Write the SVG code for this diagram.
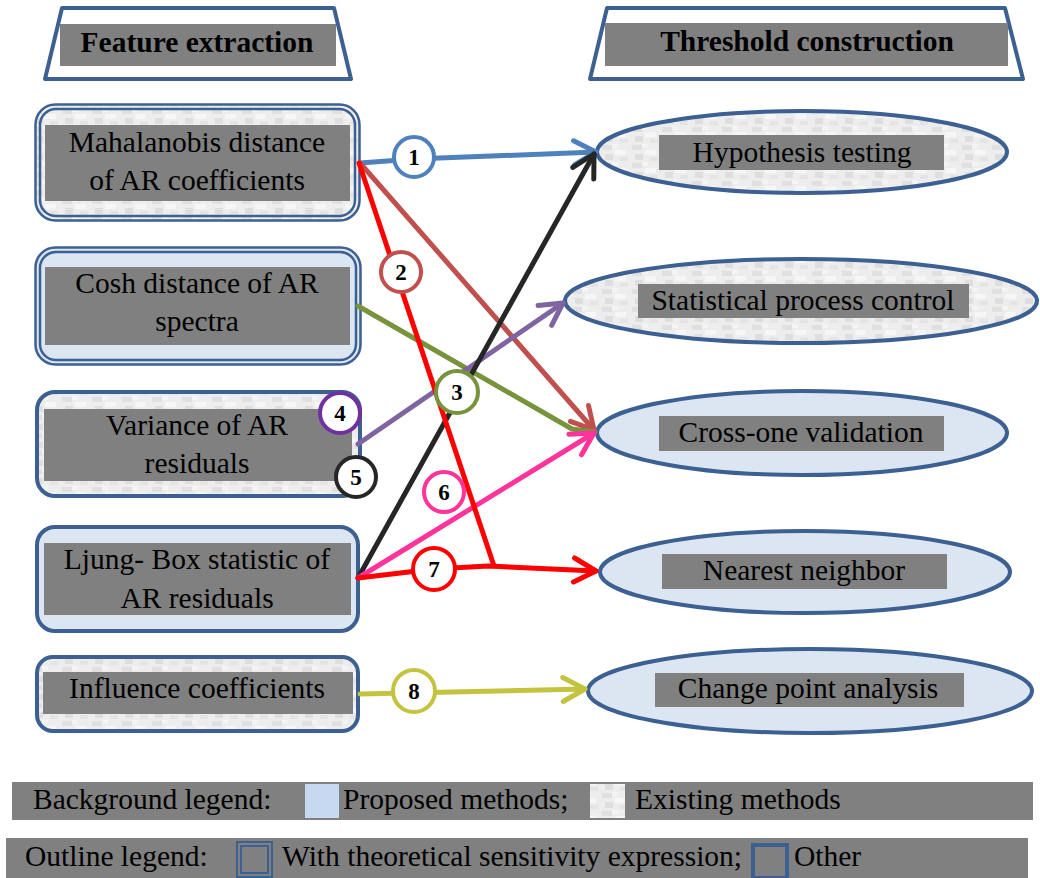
<svg xmlns="http://www.w3.org/2000/svg" width="1040" height="878" viewBox="0 0 1040 878">
<style>
.t{font-family:"Liberation Serif","Times New Roman",serif;font-size:29.5px;fill:#000;text-anchor:middle}
.tb{font-weight:bold}
.lg{font-family:"Liberation Serif","Times New Roman",serif;font-size:29.5px;fill:#000}
.num{font-family:"Liberation Serif","Times New Roman",serif;font-size:23px;font-weight:bold;fill:#000;text-anchor:middle}
.lab{fill:#808080}
.ol{stroke:#3b6091;fill:none}
.c{fill:none;stroke-width:5;stroke-linecap:round;stroke-linejoin:round}
.circ{fill:#fff;stroke-width:4}
</style>
<defs>
<pattern id="tex" width="30" height="18" patternUnits="userSpaceOnUse">
<rect width="30" height="18" fill="#ededed"/>
<rect x="2" y="1" width="10" height="5" fill="#e0e0e0"/>
<rect x="15" y="6" width="11" height="5" fill="#f6f6f6"/>
<rect x="5" y="10" width="8" height="6" fill="#dedede"/>
<rect x="20" y="13" width="8" height="4" fill="#e4e4e4"/>
<rect x="12" y="0" width="6" height="4" fill="#f4f4f4"/>
</pattern>
<marker id="aBlue" viewBox="0 0 28 30" refX="25" refY="15" markerWidth="28" markerHeight="30" markerUnits="userSpaceOnUse" orient="auto"><path d="M3,3 L25,15 L3,27" fill="none" stroke="#4f81bd" stroke-width="5" stroke-linecap="round" stroke-linejoin="round"/></marker>
<marker id="aRed" viewBox="0 0 28 30" refX="25" refY="15" markerWidth="28" markerHeight="30" markerUnits="userSpaceOnUse" orient="auto"><path d="M3,3 L25,15 L3,27" fill="none" stroke="#ff0000" stroke-width="5" stroke-linecap="round" stroke-linejoin="round"/></marker>
<marker id="aBrown" viewBox="0 0 28 30" refX="25" refY="15" markerWidth="28" markerHeight="30" markerUnits="userSpaceOnUse" orient="auto"><path d="M3,3 L25,15 L3,27" fill="none" stroke="#c0504d" stroke-width="5" stroke-linecap="round" stroke-linejoin="round"/></marker>
<marker id="aPurple" viewBox="0 0 28 30" refX="25" refY="15" markerWidth="28" markerHeight="30" markerUnits="userSpaceOnUse" orient="auto"><path d="M3,3 L25,15 L3,27" fill="none" stroke="#8064a2" stroke-width="5" stroke-linecap="round" stroke-linejoin="round"/></marker>
<marker id="aBlack" viewBox="0 0 28 30" refX="25" refY="15" markerWidth="28" markerHeight="30" markerUnits="userSpaceOnUse" orient="auto"><path d="M3,3 L25,15 L3,27" fill="none" stroke="#262626" stroke-width="5" stroke-linecap="round" stroke-linejoin="round"/></marker>
<marker id="aPink" viewBox="0 0 28 30" refX="25" refY="15" markerWidth="28" markerHeight="30" markerUnits="userSpaceOnUse" orient="auto"><path d="M3,3 L25,15 L3,27" fill="none" stroke="#ff3399" stroke-width="5" stroke-linecap="round" stroke-linejoin="round"/></marker>
<marker id="aYel" viewBox="0 0 28 30" refX="25" refY="15" markerWidth="28" markerHeight="30" markerUnits="userSpaceOnUse" orient="auto"><path d="M3,3 L25,15 L3,27" fill="none" stroke="#c3c340" stroke-width="5" stroke-linecap="round" stroke-linejoin="round"/></marker>
</defs>
<rect width="1040" height="878" fill="#fff"/>

<g id="hdr-feature">
<polygon points="62,8 334,8 351,79 45,79" fill="#fff" stroke="#3b6091" stroke-width="4" stroke-linejoin="round"/>
<rect class="lab" x="60" y="24" width="276" height="42"/>
<text class="t tb" x="197" y="52">Feature extraction</text>
</g>
<g id="hdr-threshold">
<polygon points="607,8 1005,8 1023,79 590,79" fill="#fff" stroke="#3b6091" stroke-width="4" stroke-linejoin="round"/>
<rect class="lab" x="605" y="23" width="403" height="43"/>
<text class="t tb" x="807" y="51">Threshold construction</text>
</g>

<g id="n-mahalanobis">
<rect x="35.5" y="104.5" width="324" height="116" rx="20" fill="url(#tex)" stroke="#3b6091" stroke-width="2.5"/>
<rect x="40" y="109" width="315" height="107" rx="16" class="ol" stroke-width="2.5"/>
<rect class="lab" x="45" y="125" width="305" height="76"/>
<text class="t" x="197" y="152">Mahalanobis distance</text>
<text class="t" x="197" y="190">of AR coefficients</text>
</g>
<g id="n-cosh">
<rect x="35.5" y="247.5" width="325" height="117" rx="20" fill="#dce6f2" stroke="#3b6091" stroke-width="2.5"/>
<rect x="40" y="252" width="316" height="108" rx="16" class="ol" stroke-width="2.5"/>
<rect class="lab" x="45" y="267" width="305" height="78"/>
<text class="t" x="197" y="293">Cosh distance of AR</text>
<text class="t" x="197" y="331">spectra</text>
</g>
<g id="n-variance">
<rect x="37" y="392" width="323" height="104" rx="18" fill="url(#tex)" stroke="#3b6091" stroke-width="4"/>
<rect class="lab" x="44" y="409" width="308" height="72"/>
<text class="t" x="197" y="435">Variance of AR</text>
<text class="t" x="197" y="473">residuals</text>
</g>
<g id="n-ljung">
<rect x="37" y="527" width="321" height="104" rx="18" fill="#dce6f2" stroke="#3b6091" stroke-width="4"/>
<rect class="lab" x="44" y="543" width="307" height="72"/>
<text class="t" x="197" y="569">Ljung- Box statistic of</text>
<text class="t" x="197" y="608">AR residuals</text>
</g>
<g id="n-influence">
<rect x="37" y="657" width="321" height="74" rx="16" fill="url(#tex)" stroke="#3b6091" stroke-width="4"/>
<rect class="lab" x="43" y="672" width="310" height="42"/>
<text class="t" x="197" y="698">Influence coefficients</text>
</g>

<g id="n-hypothesis">
<ellipse cx="802" cy="152" rx="205" ry="41" fill="url(#tex)" stroke="#3b6091" stroke-width="4"/>
<rect class="lab" x="659" y="135" width="285" height="35"/>
<text class="t" x="802" y="162">Hypothesis testing</text>
</g>
<g id="n-spc">
<ellipse cx="801" cy="301" rx="236" ry="42" fill="url(#tex)" stroke="#3b6091" stroke-width="4"/>
<rect class="lab" x="638" y="284" width="331" height="34"/>
<text class="t" x="803" y="310">Statistical process control</text>
</g>
<g id="n-crossone">
<ellipse cx="802" cy="433" rx="205" ry="42" fill="#dce6f2" stroke="#3b6091" stroke-width="4"/>
<rect class="lab" x="659" y="416" width="285" height="35"/>
<text class="t" x="801" y="442">Cross-one validation</text>
</g>
<g id="n-nearest">
<ellipse cx="805" cy="572" rx="205" ry="41" fill="#dce6f2" stroke="#3b6091" stroke-width="4"/>
<rect class="lab" x="662" y="554" width="285" height="35"/>
<text class="t" x="804" y="580">Nearest neighbor</text>
</g>
<g id="n-changepoint">
<ellipse cx="810" cy="691" rx="222" ry="42" fill="#dce6f2" stroke="#3b6091" stroke-width="4"/>
<rect class="lab" x="655" y="673" width="309" height="34"/>
<text class="t" x="808" y="698">Change point analysis</text>
</g>

<g id="connectors">
<polyline class="c" stroke="#4f81bd" points="360,163 414,159 596,152" marker-end="url(#aBlue)"/>
<line class="c" stroke="#c0504d" x1="360" y1="163" x2="594" y2="430" marker-end="url(#aBrown)"/>
<polyline class="c" stroke="#77933c" points="358,306 572,429 595,432"/>
<line class="c" stroke="#8064a2" x1="358" y1="444" x2="563" y2="303" marker-end="url(#aPurple)"/>
<line class="c" stroke="#262626" x1="358" y1="578" x2="594" y2="154" marker-end="url(#aBlack)"/>
<line class="c" stroke="#ff3399" x1="358" y1="578" x2="594" y2="433" marker-end="url(#aPink)"/>
<polyline class="c" stroke="#ff0000" points="359,163 494,566"/>
<polyline class="c" stroke="#ff0000" points="358,578 434,569 488,566 596,571" marker-end="url(#aRed)"/>
<line class="c" stroke="#c3c340" x1="360" y1="694" x2="585" y2="689" marker-end="url(#aYel)"/>
<circle class="circ" cx="414" cy="157" r="20" stroke="#4f81bd"/>
<text class="num" x="414" y="165">1</text>
<circle class="circ" cx="401" cy="272" r="20" stroke="#c0504d"/>
<text class="num" x="401" y="280">2</text>
<circle class="circ" cx="457" cy="392" r="21" stroke="#77933c"/>
<text class="num" x="457" y="400">3</text>
<circle class="circ" cx="340" cy="413" r="20" stroke="#7030a0"/>
<text class="num" x="340" y="421">4</text>
<circle class="circ" cx="356" cy="477" r="20" stroke="#262626"/>
<text class="num" x="356" y="485">5</text>
<circle class="circ" cx="444" cy="492" r="20" stroke="#ff3399"/>
<text class="num" x="444" y="500">6</text>
<circle class="circ" cx="434" cy="569" r="21" stroke="#ff0000"/>
<text class="num" x="434" y="577">7</text>
<circle class="circ" cx="414" cy="691" r="21" stroke="#c3c340"/>
<text class="num" x="414" y="699">8</text>
</g>

<g id="legend-background">
<rect class="lab" x="12" y="782" width="1021" height="38"/>
<text class="lg" x="33" y="809">Background legend:</text>
<rect x="305" y="784" width="34" height="34" fill="#c6d9f1"/>
<text class="lg" x="343" y="809">Proposed methods;</text>
<rect x="590" y="784" width="35" height="34" fill="url(#tex)"/>
<text class="lg" x="635" y="809">Existing methods</text>
</g>
<g id="legend-outline">
<rect class="lab" x="6" y="838" width="1022" height="40"/>
<text class="lg" x="25" y="866">Outline legend:</text>
<rect x="237" y="842" width="35" height="35" class="ol" stroke-width="2"/>
<rect x="241" y="846" width="27" height="27" class="ol" stroke-width="2"/>
<rect x="753" y="845" width="34" height="33" class="ol" stroke-width="4"/>
<text class="lg" x="282" y="866">With theoretical sensitivity expression;</text>
<text class="lg" x="794" y="866">Other</text>
</g>
</svg>
